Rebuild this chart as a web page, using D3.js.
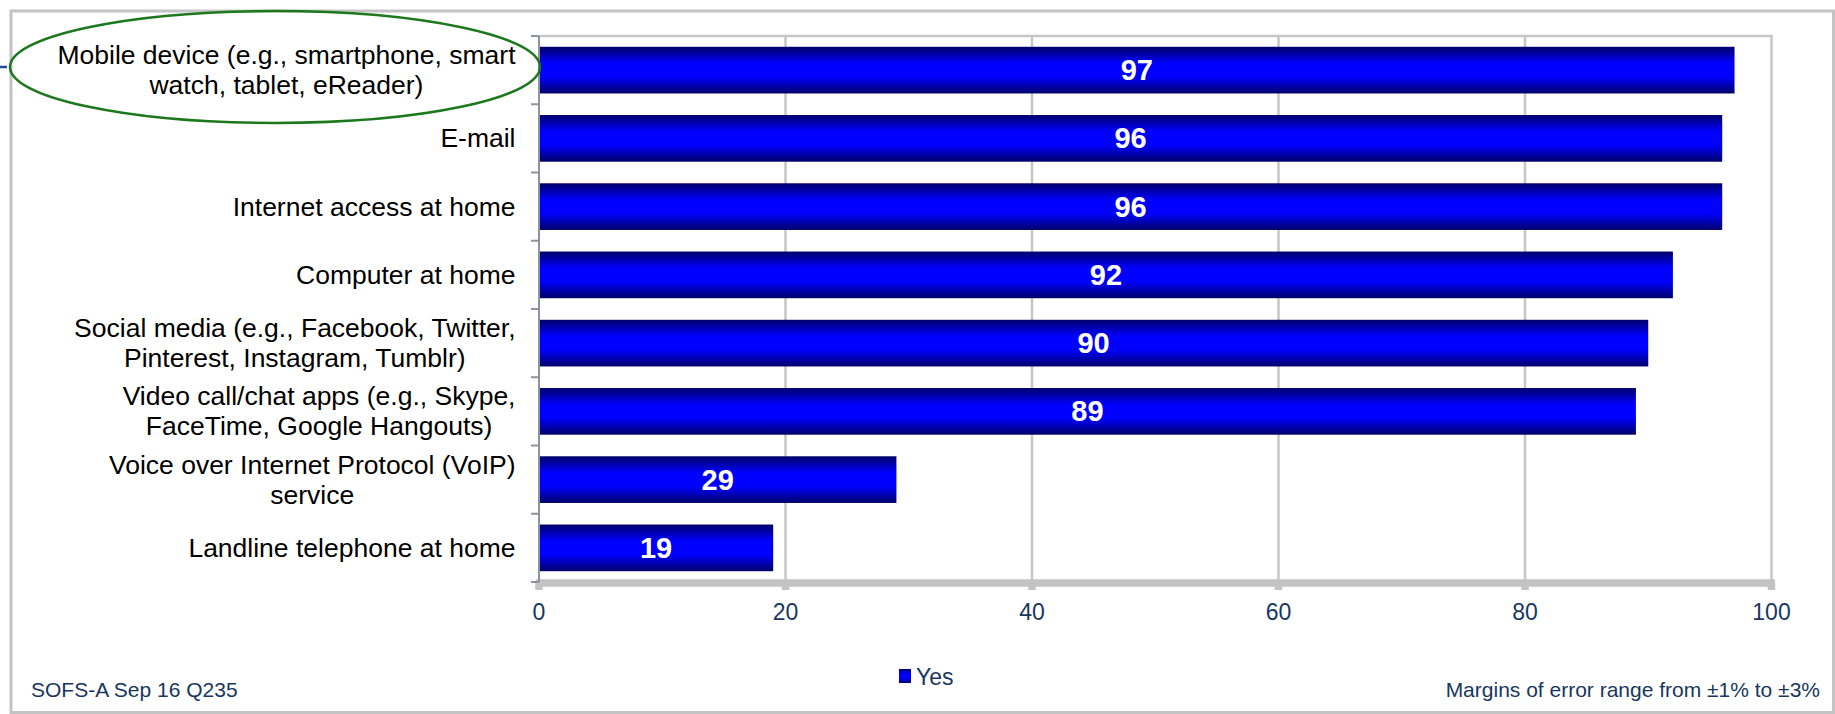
<!DOCTYPE html>
<html>
<head>
<meta charset="utf-8">
<script src="https://cdn.jsdelivr.net/npm/d3@7"></script>
<style>
  body { margin: 0; background: #fff; }
  text { font-family: "Liberation Sans", Arial, sans-serif; }
</style>
</head>
<body>
<div id="chart"></div>
<script>
// chart data
const categories = [
    ["Mobile device (e.g., smartphone, smart", "watch, tablet, eReader)"],
    ["E-mail"],
    ["Internet access at home"],
    ["Computer at home"],
    ["Social media (e.g., Facebook, Twitter,", "Pinterest, Instagram, Tumblr)"],
    ["Video call/chat apps (e.g., Skype,", "FaceTime, Google Hangouts)"],
    ["Voice over Internet Protocol (VoIP)", "service"],
    ["Landline telephone at home"]
];
const yesValues = [97, 96, 96, 92, 90, 89, 29, 19];
const xTicks = [0, 20, 40, 60, 80, 100];
const seriesName = "Yes";
const sourceNote = "SOFS-A Sep 16 Q235";
const marginNote = "Margins of error range from \u00b11% to \u00b13%";

class BarChart {
    constructor(parent) {
        this.parentElement = parent;
        this.initVis();
    }

    initVis() {
        const vis = this;
        vis.width = 1835;
        vis.height = 714;
        vis.plot = { left: 539, right: 1771.5, top: 36, bottom: 582 };
        vis.navy = "#17375e";

        vis.svg = d3.select(vis.parentElement).append("svg")
            .attr("width", vis.width)
            .attr("height", vis.height);

        const grad = vis.svg.append("defs").append("linearGradient")
            .attr("id", "barGrad")
            .attr("x1", 0).attr("y1", 0).attr("x2", 0).attr("y2", 1);
        grad.selectAll("stop")
            .data([[0, "#00006a"], [0.36, "#0000ff"], [0.64, "#0000ff"], [1, "#00006a"]])
            .enter().append("stop")
            .attr("offset", d => d[0])
            .attr("stop-color", d => d[1]);

        // outer frame
        vis.svg.append("rect")
            .attr("x", 11).attr("y", 11)
            .attr("width", 1822.5).attr("height", 701.5)
            .attr("fill", "none")
            .attr("stroke", "#c3c3c3")
            .attr("stroke-width", 3);

        vis.x = d3.scaleLinear().domain([0, 100]).range([vis.plot.left, vis.plot.right]);
        vis.y = d3.scaleBand()
            .domain(d3.range(categories.length))
            .range([vis.plot.top, vis.plot.bottom])
            .paddingInner(0.316)
            .paddingOuter(0.158);

        vis.updateVis();
    }

    updateVis() {
        const vis = this;
        const p = vis.plot;

        // gridlines
        vis.svg.append("g").selectAll("line")
            .data(xTicks.slice(1, -1))
            .enter().append("line")
            .attr("x1", d => vis.x(d)).attr("x2", d => vis.x(d))
            .attr("y1", p.top).attr("y2", p.bottom)
            .attr("stroke", "#c6c6c6")
            .attr("stroke-width", 2.5);

        // plot border (top + right)
        vis.svg.append("path")
            .attr("d", `M${p.left},${p.top}H${p.right}V${p.bottom}`)
            .attr("fill", "none")
            .attr("stroke", "#c6c6c6")
            .attr("stroke-width", 2.5);

        // bars
        vis.svg.append("g").selectAll("rect")
            .data(yesValues)
            .enter().append("rect")
            .attr("x", vis.x(0))
            .attr("y", (d, i) => vis.y(i))
            .attr("width", d => vis.x(d) - vis.x(0))
            .attr("height", vis.y.bandwidth())
            .attr("fill", "url(#barGrad)");

        // value labels
        vis.svg.append("g").selectAll("text")
            .data(yesValues)
            .enter().append("text")
            .attr("x", d => (vis.x(0) + vis.x(d)) / 2)
            .attr("y", (d, i) => vis.y(i) + vis.y.bandwidth() / 2 + 10)
            .attr("text-anchor", "middle")
            .attr("fill", "#fff")
            .attr("font-weight", "bold")
            .style("font-family", "'Liberation Sans Narrow', 'Arial Narrow', 'Liberation Sans', sans-serif")
            .attr("font-size", 29)
            .text(d => d);

        // bottom axis (thick gray line with square ticks)
        const xAxis = vis.svg.append("g");
        xAxis.append("line")
            .attr("x1", p.left - 3).attr("x2", p.right + 3.5)
            .attr("y1", p.bottom + 1).attr("y2", p.bottom + 1)
            .attr("stroke", "#c3c3c3")
            .attr("stroke-width", 7.5);
        xAxis.selectAll(".tick")
            .data(xTicks)
            .enter().append("line")
            .attr("class", "tick")
            .attr("x1", d => vis.x(d)).attr("x2", d => vis.x(d))
            .attr("y1", p.bottom + 1).attr("y2", p.bottom + 8)
            .attr("stroke", "#c3c3c3")
            .attr("stroke-width", 7.5);
        xAxis.selectAll(".tlabel")
            .data(xTicks)
            .enter().append("text")
            .attr("class", "tlabel")
            .attr("x", d => vis.x(d))
            .attr("y", 619.5)
            .attr("text-anchor", "middle")
            .attr("font-size", 23)
            .attr("fill", vis.navy)
            .text(d => d);

        // left axis
        const band = vis.y.step();
        const yAxis = vis.svg.append("g");
        yAxis.append("line")
            .attr("x1", p.left).attr("x2", p.left)
            .attr("y1", p.top).attr("y2", p.bottom)
            .attr("stroke", "#8e93a2")
            .attr("stroke-width", 2);
        yAxis.selectAll(".ytick")
            .data(d3.range(categories.length + 1))
            .enter().append("line")
            .attr("class", "ytick")
            .attr("x1", p.left - 8).attr("x2", p.left)
            .attr("y1", i => p.top + i * band).attr("y2", i => p.top + i * band)
            .attr("stroke", "#8e93a2")
            .attr("stroke-width", 2);

        // category labels: centered lines, block right-aligned
        const labelRight = 515.5;
        const lineH = 30;
        categories.forEach(function(lines, i) {
            const cy = vis.y(i) + vis.y.bandwidth() / 2;
            const g = yAxis.append("g");
            const texts = g.selectAll("text")
                .data(lines)
                .enter().append("text")
                .attr("font-size", 26.5)
                .attr("fill", "#000")
                .attr("text-anchor", "middle")
                .attr("y", (d, j) => cy + (j - (lines.length - 1) / 2) * lineH + 9)
                .text(d => d);
            let maxW = 0;
            texts.each(function() { maxW = Math.max(maxW, this.getComputedTextLength()); });
            texts.attr("x", labelRight - maxW / 2);
        });

        // highlight ellipse round the first label
        vis.svg.append("ellipse")
            .attr("cx", 275).attr("cy", 67)
            .attr("rx", 265).attr("ry", 56)
            .attr("fill", "none")
            .attr("stroke", "#1d781d")
            .attr("stroke-width", 2.5);
        vis.svg.append("line")
            .attr("x1", 0).attr("x2", 7)
            .attr("y1", 67).attr("y2", 67)
            .attr("stroke", "#1f4e8c")
            .attr("stroke-width", 2.5);

        // legend
        const legend = vis.svg.append("g").attr("transform", "translate(899,669)");
        legend.append("rect")
            .attr("width", 12).attr("height", 14)
            .attr("fill", "url(#barGrad)");
        legend.append("text")
            .attr("x", 17).attr("y", 16)
            .attr("font-size", 23)
            .attr("fill", vis.navy)
            .text(seriesName);

        // footer notes
        vis.svg.append("text")
            .attr("x", 31).attr("y", 697)
            .attr("font-size", 21)
            .attr("fill", vis.navy)
            .text(sourceNote);
        vis.svg.append("text")
            .attr("x", 1820).attr("y", 697)
            .attr("text-anchor", "end")
            .attr("font-size", 21)
            .attr("fill", vis.navy)
            .text(marginNote);
    }
}

new BarChart("#chart");
</script>
</body>
</html>
